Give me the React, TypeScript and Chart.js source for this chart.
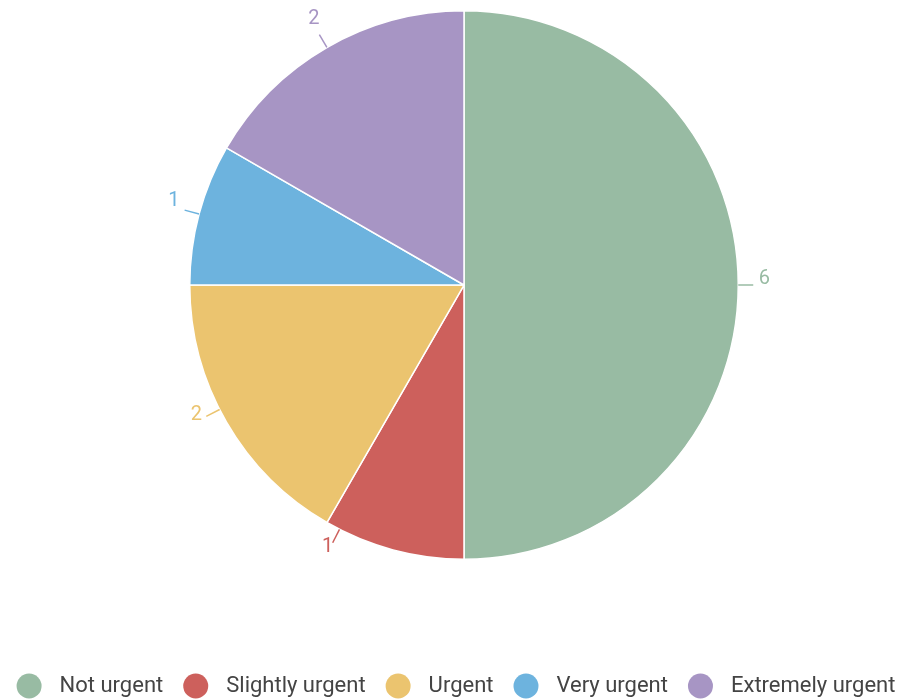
import React, { useEffect, useRef } from "react";
import { Chart, registerables } from "chart.js";

Chart.register(...registerables);

const categories = ["Not urgent", "Slightly urgent", "Urgent", "Very urgent", "Extremely urgent"];
const counts = [6, 1, 2, 1, 2];
const colors = ["#98bba3", "#cd605c", "#ebc46f", "#6db3de", "#a795c4"];

const FONT = "Roboto, 'Noto Sans', sans-serif";

const sliceLabels = {
  id: "sliceLabels",
  afterDatasetsDraw(chart: any, _args: any, opts: any) {
    const ctx = chart.ctx;
    const meta = chart.getDatasetMeta(0);
    const shifts: number[] = opts.angleShift || [];
    const ds = chart.data.datasets[0];
    ctx.save();
    meta.data.forEach((arc: any, i: number) => {
      const p = arc.getProps(["x", "y", "startAngle", "endAngle", "outerRadius"], true);
      const a = (p.startAngle + p.endAngle) / 2 + ((shifts[i] || 0) * Math.PI) / 180;
      const c = Math.cos(a), s = Math.sin(a);
      const col = ds.backgroundColor[i];
      ctx.strokeStyle = col;
      ctx.lineWidth = 1.5;
      ctx.beginPath();
      ctx.moveTo(p.x + c * p.outerRadius, p.y + s * p.outerRadius);
      ctx.lineTo(p.x + c * (p.outerRadius + 15), p.y + s * (p.outerRadius + 15));
      ctx.stroke();
      ctx.fillStyle = col;
      ctx.font = `20px ${FONT}`;
      ctx.textAlign = "center";
      ctx.textBaseline = "middle";
      const r = p.outerRadius + 26;
      ctx.fillText(String(ds.data[i]), p.x + c * r, p.y + s * r - 6);
    });
    ctx.restore();
  },
};

const bottomLegend = {
  id: "bottomLegend",
  afterDraw(chart: any) {
    const ctx = chart.ctx;
    const labels: string[] = chart.data.labels;
    const cols: string[] = chart.data.datasets[0].backgroundColor;
    ctx.save();
    ctx.font = `22px ${FONT}`;
    const lead = 43;
    const gap = 20;
    const widths = labels.map((l) => ctx.measureText(l).width);
    const total = widths.reduce((s, w) => s + lead + w, 0) + gap * (labels.length - 1);
    let x = (chart.width - total) / 2 + 4;
    const y = 686;
    labels.forEach((l, i) => {
      ctx.fillStyle = cols[i];
      ctx.beginPath();
      ctx.arc(x + 12.5, y, 12.5, 0, Math.PI * 2);
      ctx.fill();
      ctx.fillStyle = "#444444";
      ctx.textAlign = "left";
      ctx.textBaseline = "middle";
      ctx.fillText(l, x + lead, y);
      x += lead + widths[i] + gap;
    });
    ctx.restore();
  },
};

export default function App() {
  const ref = useRef<HTMLCanvasElement>(null);
  useEffect(() => {
    if (!ref.current) return;
    const chart = new Chart(ref.current, {
      type: "pie",
      data: {
        labels: categories,
        datasets: [
          {
            data: counts,
            backgroundColor: colors,
            borderColor: "#ffffff",
            borderWidth: 1.5,
          },
        ],
      },
      options: {
        animation: false,
        responsive: true,
        maintainAspectRatio: false,
        layout: { padding: { top: 10, bottom: 140, left: 24, right: 0 } },
        plugins: {
          legend: { display: false },
          tooltip: { enabled: false },
          sliceLabels: { angleShift: [0, 12, 3, 0, 0] },
        } as any,
      },
      plugins: [sliceLabels, bottomLegend],
    });
    return () => chart.destroy();
  }, []);
  return (
    <div style={{ position: "absolute", left: 0, top: 0, width: 904, height: 700, background: "#fff" }}>
      <canvas ref={ref} />
    </div>
  );
}
